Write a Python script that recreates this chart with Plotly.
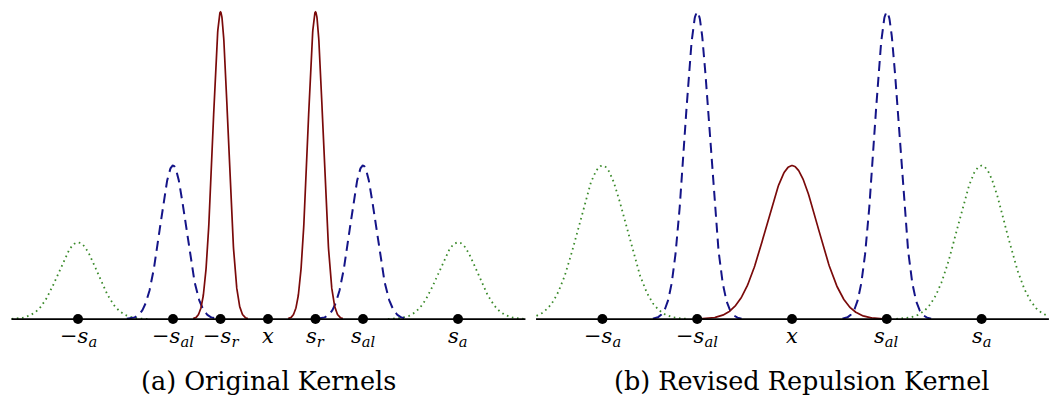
import numpy as np
import plotly.graph_objects as go

# ---- data (units: s_r = 1) ----
# panel (a) Original Kernels
a_point_pos = [-4, -2, -1, 0, 1, 2, 4]
a_point_labels = ["−<i>s</i><sub><i>a</i></sub>", "−<i>s</i><sub><i>al</i></sub>", "−<i>s</i><sub><i>r</i></sub>",
                  "<i>x</i>", "<i>s</i><sub><i>r</i></sub>", "<i>s</i><sub><i>al</i></sub>", "<i>s</i><sub><i>a</i></sub>"]
a_rep_centers = [-1, 1]
a_rep_height = 1.0
a_rep_sigma = 0.16
a_ali_centers = [-2, 2]
a_ali_height = 0.5
a_ali_sigma = 0.27
a_att_centers = [-4, 4]
a_att_height = 0.25
a_att_sigma = 0.41

# panel (b) Revised Repulsion Kernel
b_point_pos = [-4, -2, 0, 2, 4]
b_point_labels = ["−<i>s</i><sub><i>a</i></sub>", "−<i>s</i><sub><i>al</i></sub>", "<i>x</i>",
                  "<i>s</i><sub><i>al</i></sub>", "<i>s</i><sub><i>a</i></sub>"]
b_rep_centers = [0]
b_rep_height = 0.5
b_rep_sigma = 0.54
b_ali_centers = [-2, 2]
b_ali_height = 1.0
b_ali_sigma = 0.26
b_att_centers = [-4, 4]
b_att_height = 0.5
b_att_sigma = 0.5

captions = ["(a) Original Kernels", "(b) Revised Repulsion Kernel"]

RED = "#7a0a0a"
BLUE = "#141488"
GREEN = "#3a8a2a"
XMIN, XMAX = -5.4, 5.42
SERIF = "DejaVu Serif"


def bump(centers, height, sigma, cut=3.6):
    xs, ys = [], []
    for c in centers:
        t = np.linspace(c - cut * sigma, c + cut * sigma, 300)
        t = t[(t >= XMIN) & (t <= XMAX)]
        xs += list(t) + [None]
        ys += list(height * np.exp(-0.5 * ((t - c) / sigma) ** 2)) + [None]
    return xs, ys


fig = go.Figure()

panels = [
    ("x", "y", a_point_pos, a_point_labels,
     (a_att_centers, a_att_height, a_att_sigma),
     (a_ali_centers, a_ali_height, a_ali_sigma),
     (a_rep_centers, a_rep_height, a_rep_sigma)),
    ("x2", "y2", b_point_pos, b_point_labels,
     (b_att_centers, b_att_height, b_att_sigma),
     (b_ali_centers, b_ali_height, b_ali_sigma),
     (b_rep_centers, b_rep_height, b_rep_sigma)),
]

for xa, ya, pos, labels, att, ali, rep in panels:
    x, y = bump(*att)
    fig.add_trace(go.Scatter(x=x, y=y, xaxis=xa, yaxis=ya, mode="lines",
                             line=dict(color=GREEN, width=1.8, dash="1.6px,3.6px")))
    x, y = bump(*ali)
    fig.add_trace(go.Scatter(x=x, y=y, xaxis=xa, yaxis=ya, mode="lines",
                             line=dict(color=BLUE, width=2, dash="10px,6px")))
    x, y = bump(*rep)
    fig.add_trace(go.Scatter(x=x, y=y, xaxis=xa, yaxis=ya, mode="lines",
                             line=dict(color=RED, width=1.7)))
    fig.add_trace(go.Scatter(x=[XMIN, XMAX], y=[0, 0], xaxis=xa, yaxis=ya, mode="lines",
                             line=dict(color="black", width=1.7)))
    fig.add_trace(go.Scatter(x=pos, y=[0] * len(pos), xaxis=xa, yaxis=ya, mode="markers",
                             marker=dict(color="black", size=10)))
    for p, lab in zip(pos, labels):
        fig.add_annotation(x=p, y=-0.01, xref=xa, yref=ya, text=lab, showarrow=False,
                           yanchor="top", xanchor="center",
                           font=dict(family=SERIF, size=21, color="black"))

fig.add_annotation(x=0, y=-0.2, xref="x", yref="y", text=captions[0], showarrow=False,
                   yanchor="middle", xanchor="center",
                   font=dict(family=SERIF, size=25.5, color="black"))
fig.add_annotation(x=0.2, y=-0.2, xref="x2", yref="y2", text=captions[1], showarrow=False,
                   yanchor="middle", xanchor="center",
                   font=dict(family=SERIF, size=25.5, color="black"))

ax = dict(showgrid=False, zeroline=False, showticklabels=False, showline=False, ticks="")
yr = [-0.270, 1.039]
fig.update_layout(
    width=1057, height=402, margin=dict(l=0, r=0, t=0, b=0),
    paper_bgcolor="white", plot_bgcolor="white", showlegend=False,
    xaxis=dict(ax, domain=[0, 0.5], range=[-268 / 47.5, (528.5 - 268) / 47.5]),
    xaxis2=dict(ax, domain=[0.5, 1], range=[(528.5 - 792) / 47.4, (1057 - 792) / 47.4]),
    yaxis=dict(ax, range=yr),
    yaxis2=dict(ax, range=yr, anchor="x2"),
)

fig.write_html("out.html")
